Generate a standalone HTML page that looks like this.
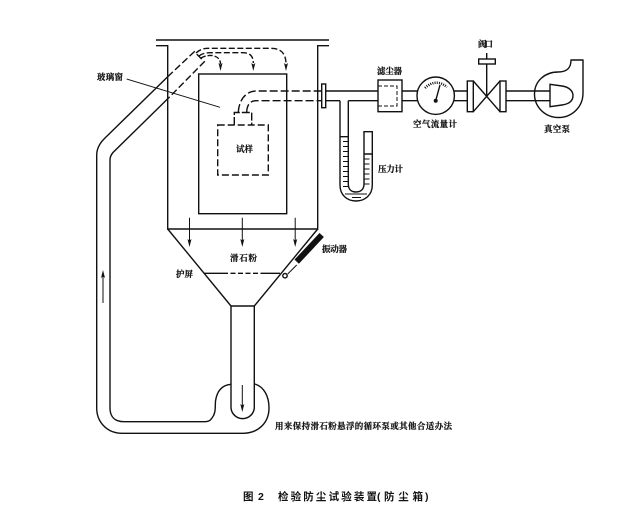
<!DOCTYPE html>
<html>
<head>
<meta charset="utf-8">
<style>
html,body{margin:0;padding:0;background:#fff;}
svg{display:block;}
text{font-family:"Liberation Serif","Noto Serif CJK SC",serif;font-weight:700;fill:#111;font-size:8.5px;stroke:#111;stroke-width:.2px;}
.cap{font-family:"Liberation Sans","Noto Sans CJK SC",sans-serif;font-size:10.5px;font-weight:700;stroke:none;}
</style>
</head>
<body>
<svg width="631" height="514" viewBox="0 0 631 514" xmlns="http://www.w3.org/2000/svg">
<g fill="none" stroke="#111" stroke-width="1.4">
<!-- Chamber -->
<path d="M156 40H329" />
<path d="M156 45.7H167.7V229H317.7V45.7H329" />
<rect x="198.7" y="74" width="88" height="139.7"/>
<!-- Hopper -->
<path d="M167.7 229L231 306H254.3L317.7 229"/>
<path d="M231 306V408a11.7 11.7 0 0 0 23.3 0V306"/>
<!-- Recirc pipe -->
<path d="M231 384.3C222 385 217 391 215.5 401C215 408 216 413 212 418C210 421 208 421.7 204 421.7H124C115 421.7 110 417 110 408V160Q110 156 113 152.5L168 98.5"/>
<path d="M255 384C264 387 269 396 269 408C269 423 258 433.3 243 433.3H122C107 433.3 96.7 422 96.7 408V155Q96.7 146 105 138L167.7 76.7"/>
<!-- dashed pipe in chamber -->
<path d="M167.7 76.7L194.3 51.7L204.3 61.7L168 98.5" stroke-dasharray="7 3"/>
<!-- blower curves -->
<path d="M196 53Q201 48.3 208 48.3H271Q286 48.3 286 64" stroke-dasharray="6 2.5"/>
<path d="M199 56Q203 52.7 210 52.7H243Q253.3 52.7 253.3 63" stroke-dasharray="6 2.5"/>
<path d="M201 58Q206 55 212 55.5Q220.5 57 220.5 64" stroke-dasharray="5 2"/>
<!-- sample -->
<rect x="217.7" y="125" width="50.6" height="50" stroke-dasharray="7 3"/>
<path d="M234.3 125V112.5H251.7V125" stroke-dasharray="8 2"/>
<path d="M238.3 112C239 100 246 91 256 91H321.7" stroke-dasharray="8 3"/>
<path d="M246.7 112C247 105 250 100.7 256 100.7H321.7" stroke-dasharray="8 3"/>
<!-- flange -->
<rect x="321.7" y="84" width="4" height="23.7"/>
<!-- line pipes -->
<path d="M325.7 91H378M402 91H417.5M454 91H467.3M506 91H550"/>
<path d="M325.7 100.7H340M348.3 100.7H378M402 100.7H417.5M454 100.7H467.3M506 100.7H550"/>
<!-- filter -->
<rect x="378" y="80" width="24" height="31.7"/>
<path d="M378 86H397V106H378" stroke-dasharray="4 2" stroke-width="1"/>
<!-- gauge -->
<circle cx="435.7" cy="95.7" r="18.7"/>
<path d="M425 88Q435.7 78 447 87" stroke-width="2.5" stroke-dasharray="1 1.2"/>
<path d="M435.7 100.7L440 85"/>
<!-- valve -->
<rect x="467.3" y="81" width="6" height="30.7"/>
<rect x="500" y="81" width="6" height="30.7"/>
<path d="M473.3 81L500 111.7M473.3 111.7L500 81"/>
<path d="M486.7 96V64M486.7 59V53"/>
<rect x="478.7" y="59" width="16.6" height="5"/>
<!-- pump -->
<path d="M571 60H583V93C583 107 572 117.5 558.5 117.5C545 117.5 534.5 107 534.5 94C534.5 81 545 72 558 72C567 72 571 68 571 60Z" stroke-linejoin="round"/>
<path d="M550 84.3L562 86C569 87 573 91 573 95.5C573 101 569 104 562 105L550 106.7Z" fill="#fff"/>
<!-- U tube -->
<path d="M340 100.7V185C340 195 347 201 356 201C365 201 372.3 195 372.3 185V131.7H364V184C364 189 361 192 356 192C351 192 348.3 189 348.3 184V100.7"/>
<path d="M340 136.7H348.3M364 154H372.3"/>
<path d="M343 141.5H348.3M343 146.5H348.3M343 151.5H348.3M343 156.5H348.3M343 161.5H348.3M343 166.5H348.3M343 171.5H348.3M343 176.5H348.3M343 181.5H348.3M343 186.5H348.3" stroke-width="1"/>
<path d="M364 159H369.5M364 164H369.5M364 169H369.5M364 174H369.5M364 179H369.5M364 184H369.5" stroke-width="1"/>
<path d="M345 194H367M352 197.5H361" stroke-width="1"/>
<!-- leader -->
<path d="M126.7 79L220 107.3" stroke-width="1"/>
<!-- screen -->
<path d="M204 273.3H223M265 273.3H280"/>
<path d="M223 273.3H265" stroke-dasharray="5 2.5"/>
<!-- vibrator -->
<path d="M296.7 261.7L321.7 235" stroke-width="6"/>
<path d="M296.7 265L287.7 274" stroke-width="1"/>
<circle cx="285" cy="275.7" r="2.2"/>
</g>
<circle cx="435.7" cy="100.7" r="2" fill="#111"/>
<!-- arrows -->
<g fill="none" stroke="#111" stroke-width="1">
<path d="M189.5 217.7V242M242.3 217.7V242M295.2 217.7V242M242.3 385V406M103 303V276"/>
</g>
<g fill="#111">
<path d="M284 63L286 64.5L288 63L286 71Z"/>
<path d="M251.3 63L253.3 64.5L255.3 63L253.3 71Z"/>
<path d="M218.5 63L220.5 64.5L222.5 63L220.5 71Z"/>
<path d="M187.5 239L189.5 240.5L191.5 239L189.5 247Z"/>
<path d="M240.3 239L242.3 240.5L244.3 239L242.3 247Z"/>
<path d="M293.2 239L295.2 240.5L297.2 239L295.2 247Z"/>
<path d="M240.3 404L242.3 405.5L244.3 404L242.3 412Z"/>
<path d="M101 278L103 276.5L105 278L103 270Z"/>
</g>
<!-- labels -->
<text x="97" y="80" textLength="26">玻璃窗</text>
<text x="236" y="152" textLength="17">试样</text>
<text x="377" y="74" textLength="25">滤尘器</text>
<text x="478" y="47" textLength="15">阀口</text>
<text x="413" y="127" textLength="44">空气流量计</text>
<text x="544" y="132" textLength="26">真空泵</text>
<text x="378" y="172" textLength="25">压力计</text>
<text x="230" y="261" textLength="27">滑石粉</text>
<text x="176" y="277" textLength="17">护屏</text>
<text x="322" y="252" textLength="25">振动器</text>
<text x="275" y="429" textLength="177">用来保持滑石粉悬浮的循环泵或其他合适办法</text>
<text class="cap" x="243" y="500">图</text>
<text class="cap" x="258" y="500">2</text>
<text class="cap" x="278" y="500" textLength="99">检验防尘试验装置</text>
<text class="cap" x="377" y="500">(</text>
<text class="cap" x="384" y="500" textLength="39">防尘箱</text>
<text class="cap" x="425" y="500">)</text>
</svg>
</body>
</html>
